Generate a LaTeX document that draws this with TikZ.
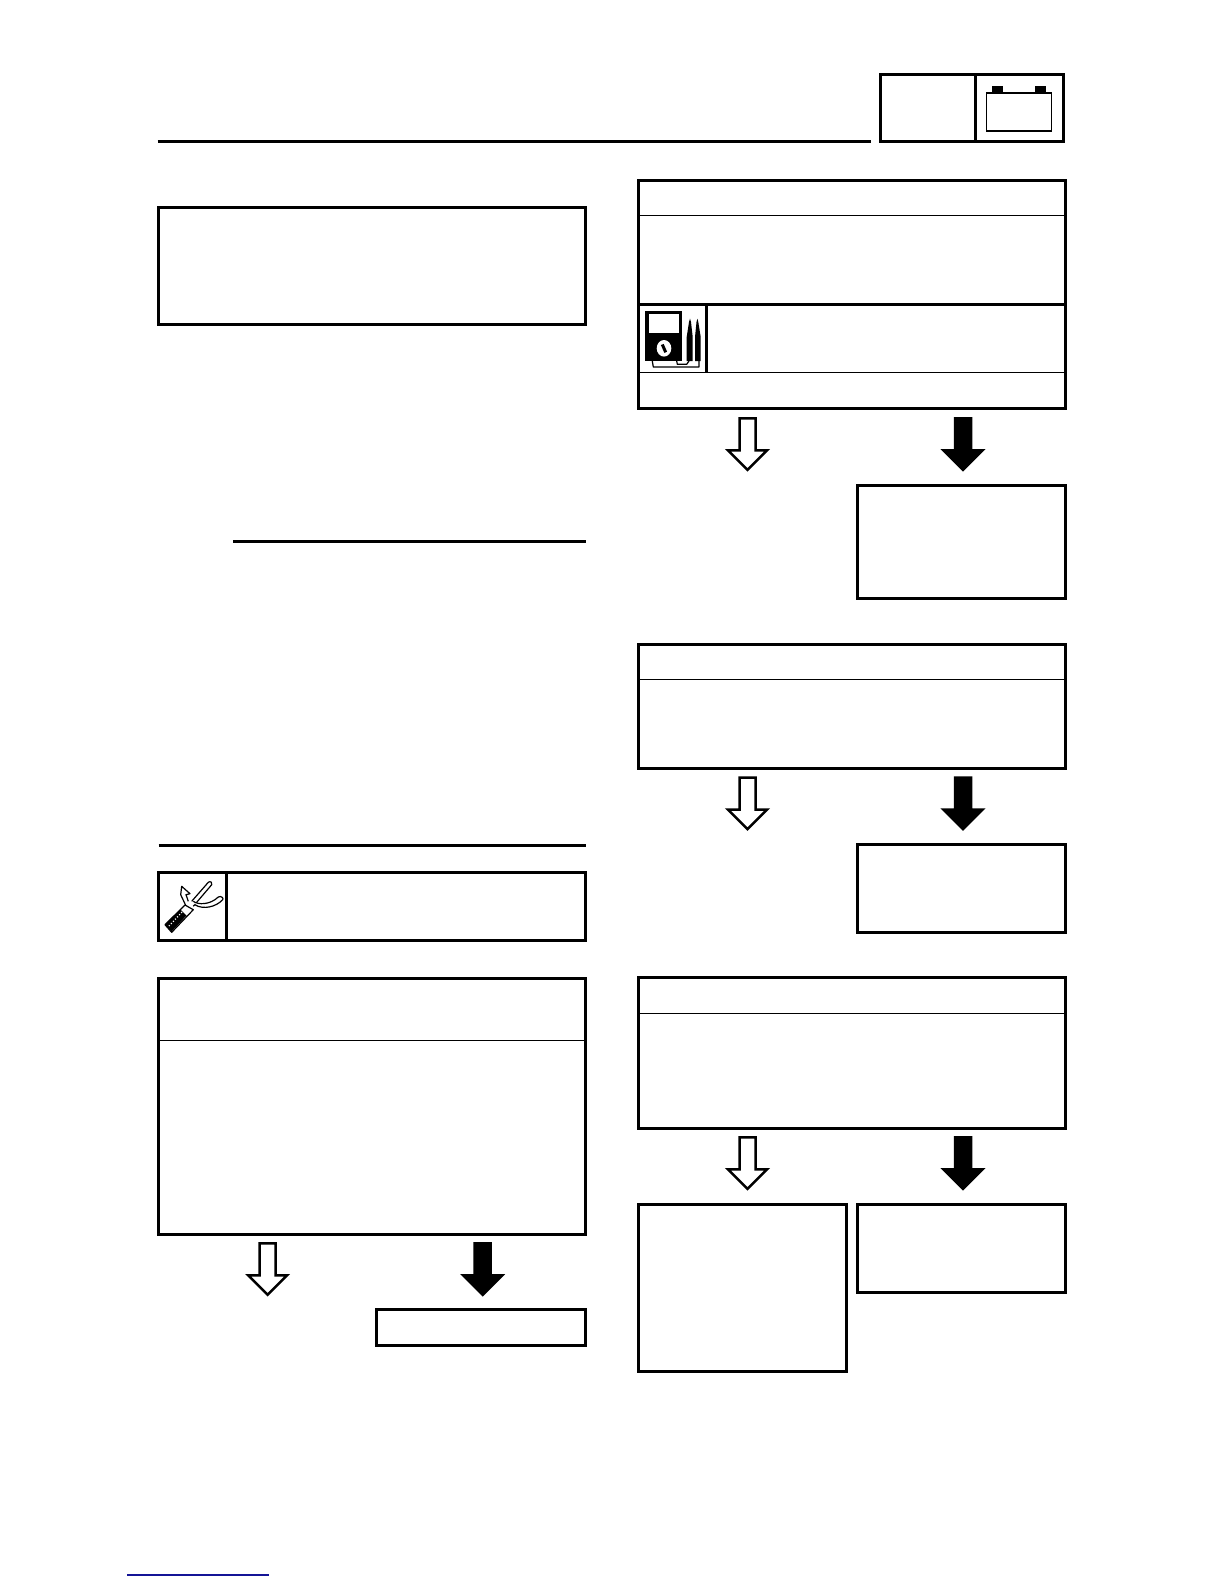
\documentclass[tikz,border=0pt]{standalone}
\usepackage{xcolor}
\definecolor{linkblue}{RGB}{20,20,150}
\tikzset{
  heavybox/.style={line width=3pt},
  heavyrule/.style={line width=3pt},
  thinrule/.style={line width=1.1pt},
  iconline/.style={line width=1.2pt, line join=round},
  openarrow/.style={line width=2.5pt, fill=white},
  solidarrow/.style={line width=2.5pt, fill=black}
}
\begin{document}
\begin{tikzpicture}[x=1pt,y=-1pt]
\useasboundingbox (0,0) rectangle (1224,1584);
% Shape of the block arrows, from the middle of the top edge
\def\blockarrow{++(-8,0) -- ++(0,32) -- ++(-11.5,0) -- ++(19.5,19.5) -- ++(19.5,-19.5) -- ++(-11.5,0) -- ++(0,-32) -- cycle}

% Header rule and the tab with the battery
\draw[heavyrule] (157.5,141.3) -- (870.5,141.3);
\draw[heavybox] (880,75) rectangle +(183.4,66.7);
\draw[heavybox] (975,75) -- (975,141.7);
\draw[line width=1.6pt] (986.5,92.8) rectangle +(65,38);
\fill (992.3,86.5) rectangle +(10.4,6);
\fill (1035,86.5) rectangle +(11,6);

% Left column
\draw[heavybox] (158.5,207.5) rectangle +(427.2,116.5);
\draw[heavyrule] (233,541.3) -- (585.7,541.3);
\draw[heavyrule] (158.5,845.3) -- (585.7,845.3);

% Box with the pliers
\draw[heavybox] (158.5,872) rectangle +(427.2,68);
\draw[heavybox] (226.5,872) -- (226.5,940);
\draw[iconline, fill=white] (186,906) -- (180.7,894.7) -- (181.7,886.3) -- (190,893.7) -- (186,894.7) -- (188.3,901.3);
\draw[iconline, fill=white] (191.7,901.3) -- (208.3,882.3) .. controls (210.5,880.5) and (213,883) .. (211.7,884.7) -- (193.3,906.3);
\draw[iconline, fill=white] (193.3,901.3) .. controls (198,905) and (210,905) .. (218.3,897) .. controls (221,895.5) and (224,898) .. (222.7,899.7) .. controls (216,907) and (203,910) .. (195,904.7);
\draw[iconline, fill=white] (165,924.7) -- (171.7,932.3) -- (193.3,909.7) -- (185,905) -- cycle;
\fill (165.5,925) -- (171.7,931.5) -- (186.5,915.5) -- (180.5,909.5) -- cycle;
\draw[white, line width=1.3pt, dash pattern=on 1pt off 2pt] (169,926) -- (183,911);

% Big box on the left
\draw[heavybox] (158.5,978) rectangle +(427.2,256);
\draw[thinrule] (158.5,1040.5) -- (585.7,1040.5);
\draw[openarrow] (267.6,1243.3) \blockarrow;
\draw[solidarrow] (482.7,1243.3) \blockarrow;
\draw[heavybox] (376.7,1309.5) rectangle +(209,36);

% Right column, first box
\draw[heavybox] (638.6,180.3) rectangle +(426.8,227.7);
\draw[thinrule] (638.6,215.3) -- (1065.4,215.3);
\draw[heavyrule] (638.6,304.3) -- (1065.4,304.3);
\draw[thinrule] (638.6,372.8) -- (1065.4,372.8);
\draw[heavybox] (706.7,304.3) -- (706.7,372.8);

% Meter with its probes
\fill (645,311) rectangle (682.3,361);
\fill[white] (649,314.3) rectangle (679,333);
\fill[white] (664,348.3) ellipse (7.3 and 8.3);
\draw[line width=3pt] (662.3,344.5) -- (665.7,352.3);
\fill (686.7,337) -- (689,322) -- (690,318.7) -- (691,322) -- (692.7,337) -- (692.7,361) -- (686.7,361) -- cycle;
\fill (695,337) -- (696.5,322) -- (697.4,318.7) -- (698.3,322) -- (700.7,337) -- (700.7,361) -- (695,361) -- cycle;
\draw[iconline] (652.3,361) -- (653.3,367) -- (699,367) -- (699,361);
\draw[iconline] (676.7,361) -- (677.3,364.3) -- (686.7,364.3) -- (689,361);

\draw[openarrow] (747.5,418.3) \blockarrow;
\draw[solidarrow] (963,418.3) \blockarrow;
\draw[heavybox] (857.7,485) rectangle +(207.8,113);

% Right column, second box
\draw[heavybox] (638.6,644.8) rectangle +(426.8,123.7);
\draw[thinrule] (638.6,679.3) -- (1065.4,679.3);
\draw[openarrow] (747.5,777.7) \blockarrow;
\draw[solidarrow] (963,777.7) \blockarrow;
\draw[heavybox] (857.7,844.5) rectangle +(207.8,87.5);

% Right column, third box
\draw[heavybox] (638.6,977) rectangle +(426.8,151.3);
\draw[thinrule] (638.6,1013.3) -- (1065.4,1013.3);
\draw[openarrow] (747.5,1137.3) \blockarrow;
\draw[solidarrow] (963,1137.3) \blockarrow;
\draw[heavybox] (638.6,1204) rectangle +(207.5,167.5);
\draw[heavybox] (857.7,1204) rectangle +(207.8,88.5);

% Link underline at the foot of the page
\draw[linkblue, line width=1.2pt] (127,1575) -- (269,1575);
\end{tikzpicture}
\end{document}
